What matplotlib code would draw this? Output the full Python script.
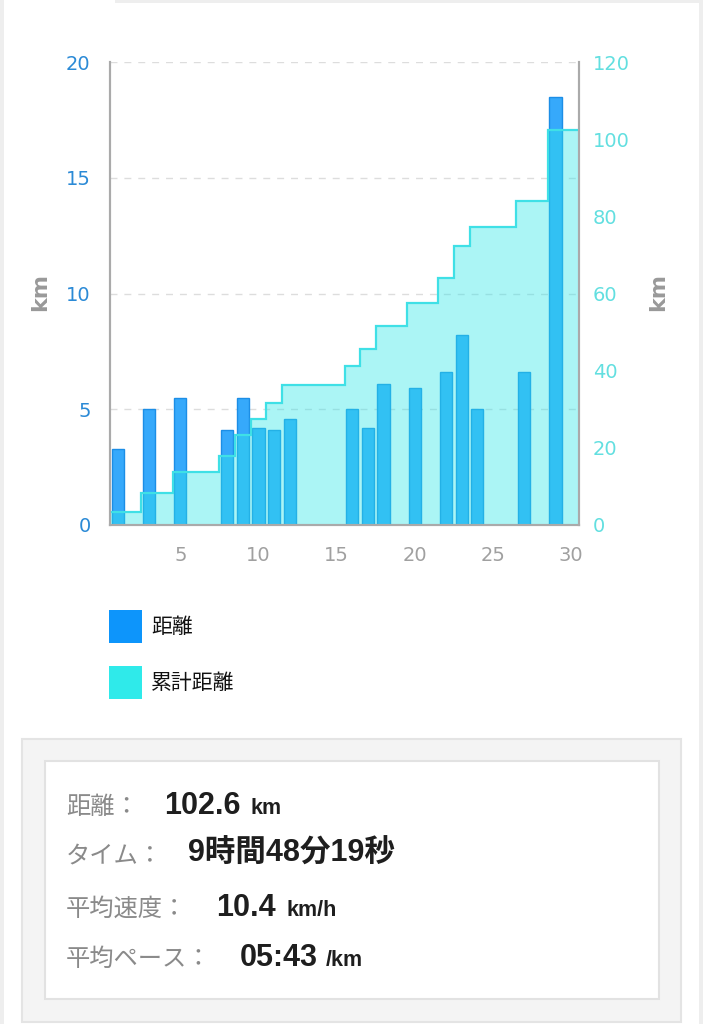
import numpy as np
import matplotlib
matplotlib.use('Agg')
import matplotlib.pyplot as plt
from matplotlib.patches import Rectangle

plt.rcParams['font.family'] = ['DejaVu Sans', 'Noto Sans CJK JP']

# データ（1日ごとの距離 km）
days = np.arange(1, 31)
dist = [3.3, 0, 5.0, 0, 5.5, 0, 0, 4.1, 5.5, 4.2,
        4.1, 4.6, 0, 0, 0, 5.0, 4.2, 6.1, 0, 5.9,
        0, 6.6, 8.2, 5.0, 0, 0, 6.6, 0, 18.5, 0]
cum = np.cumsum(dist)

left_ticks = [0, 5, 10, 15, 20]
right_ticks = [0, 20, 40, 60, 80, 100, 120]
x_ticks = [5, 10, 15, 20, 25, 30]
legend_labels = ['距離', '累計距離']
legend_colors = ['#0d95fb', '#2feaea']

summary_labels = ['距離：', 'タイム：', '平均速度：', '平均ペース：']
summary_values = ['102.6', '9時間48分19秒', '10.4', '05:43']
summary_units = ['km', '', 'km/h', '/km']

W, H = 703, 1024
fig = plt.figure(figsize=(W / 100, H / 100), dpi=100)
fig.patch.set_facecolor('white')


def box(x0, y0, x1, y1, **kw):
    # 画素座標（上が0）で四角を描く
    fig.add_artist(Rectangle((x0 / W, 1 - y1 / H), (x1 - x0) / W, (y1 - y0) / H,
                             transform=fig.transFigure, **kw))


# 外枠
box(0, 0, 4, H, facecolor='#eeeeee', edgecolor='none')
box(699, 0, W, H, facecolor='#eeeeee', edgecolor='none')
box(115, 0, W, 3, facecolor='#eeeeee', edgecolor='none')

# グラフ
ax = fig.add_axes([110 / W, 1 - 525 / H, (579 - 110) / W, (525 - 62) / H])
ax2 = ax.twinx()

ax.bar(days, dist, width=0.78, color='#36a9fb', edgecolor='#1c8ee6', linewidth=1, zorder=2)
edges = np.arange(0.5, 31.5, 1)
ax2.stairs(cum, edges, fill=True, color='#2ee6e8', alpha=0.4, linewidth=0)
ax2.stairs(cum, edges, baseline=None, color='#3fe0e6', linewidth=1.6)

ax.set_xlim(0.5, 30.5)
ax.set_ylim(0, 20)
ax2.set_ylim(0, 120)
ax.set_yticks(left_ticks)
ax2.set_yticks(right_ticks)
ax.set_xticks(x_ticks)

ax.yaxis.grid(True, color='#dddddd', linestyle=(0, (5, 5)), linewidth=1, zorder=0)
ax.set_axisbelow(True)

for a in (ax, ax2):
    a.spines['top'].set_visible(False)
    for s in ('left', 'right', 'bottom'):
        a.spines[s].set_color('#aaaaaa')
        a.spines[s].set_linewidth(1.5)

ax.tick_params(axis='y', length=0, pad=14, labelsize=14, labelcolor='#2b8ad6')
ax.tick_params(axis='x', length=0, pad=15, labelsize=14, labelcolor='#a0a0a0')
ax2.tick_params(axis='y', length=0, pad=10, labelsize=14, labelcolor='#62dfe0')

fig.text(40 / W, 1 - 292 / H, 'km', rotation=90, ha='center', va='center',
         fontsize=16, fontweight='bold', color='#999999')
fig.text(658 / W, 1 - 292 / H, 'km', rotation=90, ha='center', va='center',
         fontsize=16, fontweight='bold', color='#999999')

# 凡例
legend_top = [610, 666]
for i in range(2):
    y0 = legend_top[i]
    box(109, y0, 142, y0 + 33, facecolor=legend_colors[i], edgecolor='none')
    fig.text(151 / W, 1 - (y0 + 17) / H, legend_labels[i], va='center', fontsize=15,
             color='#111111', family='Noto Sans CJK JP')

# 集計ボックス
box(22, 739, 681, 1022, facecolor='#f4f4f4', edgecolor='#e4e4e4', linewidth=1.5)
box(45, 761, 659, 999, facecolor='white', edgecolor='#e2e2e2', linewidth=1.5)

baselines = [814, 862, 916, 966]
value_x = [164, 188, 216, 240]
unit_x = [250, 0, 286, 326]
bold_fam = ['Liberation Sans', 'Noto Sans CJK JP']
for i in range(4):
    yb = 1 - baselines[i] / H
    fig.text(66 / W, yb, summary_labels[i], va='baseline', fontsize=17.5,
             color='#8a8a8a', family='Noto Sans CJK JP')
    fig.text(value_x[i] / W, yb, summary_values[i], va='baseline', fontsize=22,
             fontweight='bold', color='#1e1e1e', family=bold_fam)
    if summary_units[i]:
        fig.text(unit_x[i] / W, yb, summary_units[i], va='baseline', fontsize=15.5,
                 fontweight='bold', color='#1e1e1e', family=bold_fam)

fig.savefig('out.png', dpi=100, facecolor=fig.get_facecolor())
